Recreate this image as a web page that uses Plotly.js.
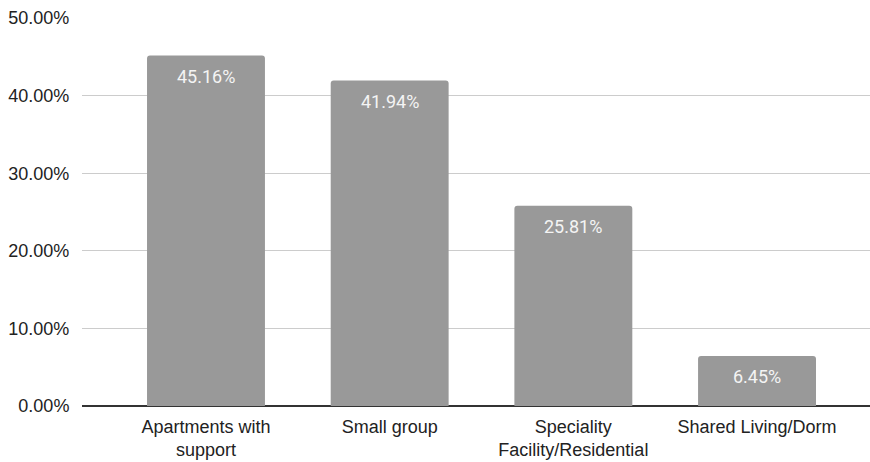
<!DOCTYPE html>
<html>
<head>
<meta charset="utf-8">
<script src="https://cdn.plot.ly/plotly-3.0.1.min.js"></script>
<style>html,body{margin:0;padding:0;background:#fff;}#chart{width:870px;height:462px;}</style>
</head>
<body>
<div id="chart"></div>
<script>
const categories = ["Apartments with<br>support", "Small group", "Speciality<br>Facility/Residential", "Shared Living/Dorm"];
const values = [45.16, 41.94, 25.81, 6.45];
const valueLabels = ["45.16%", "41.94%", "25.81%", "6.45%"];
const yTicks = [0, 10, 20, 30, 40, 50];
const yTickLabels = ["0.00%", "10.00%", "20.00%", "30.00%", "40.00%", "50.00%"];

const trace = {
  type: 'bar',
  x: [0, 1, 2, 3],
  y: values,
  width: 0.642,
  marker: {color: '#999999', cornerradius: 3},
  hoverinfo: 'none'
};

const annotations = values.map((v, i) => ({
  x: i, y: v, xref: 'x', yref: 'y',
  text: valueLabels[i], showarrow: false,
  yanchor: 'middle', yshift: -21,
  font: {family: 'Roboto, sans-serif', size: 18, color: '#f4f4f4'}
}));

const layout = {
  width: 870, height: 462,
  margin: {l: 82, r: 0, t: 18, b: 55.5},
  paper_bgcolor: '#ffffff', plot_bgcolor: '#ffffff',
  font: {family: '"Liberation Sans", Arial, sans-serif', size: 18, color: '#222222'},
  showlegend: false,
  xaxis: {
    range: [-0.675, 3.615],
    tickmode: 'array', tickvals: [0, 1, 2, 3], ticktext: categories,
    showgrid: false, showline: false, zeroline: false,
    ticks: 'outside', ticklen: 4, tickcolor: 'rgba(0,0,0,0)',
    tickfont: {size: 18, color: '#222222'}
  },
  yaxis: {
    range: [0, 50], tickmode: 'array', tickvals: yTicks, ticktext: yTickLabels,
    showgrid: true, gridcolor: '#cccccc', gridwidth: 1,
    zeroline: true, zerolinecolor: '#333333', zerolinewidth: 1.3,
    showline: false, ticks: 'outside', ticklen: 8, tickcolor: 'rgba(0,0,0,0)',
    tickfont: {size: 18, color: '#222222'}
  },
  annotations: annotations
};

Plotly.newPlot('chart', [trace], layout, {displayModeBar: false, staticPlot: true});
</script>
</body>
</html>
